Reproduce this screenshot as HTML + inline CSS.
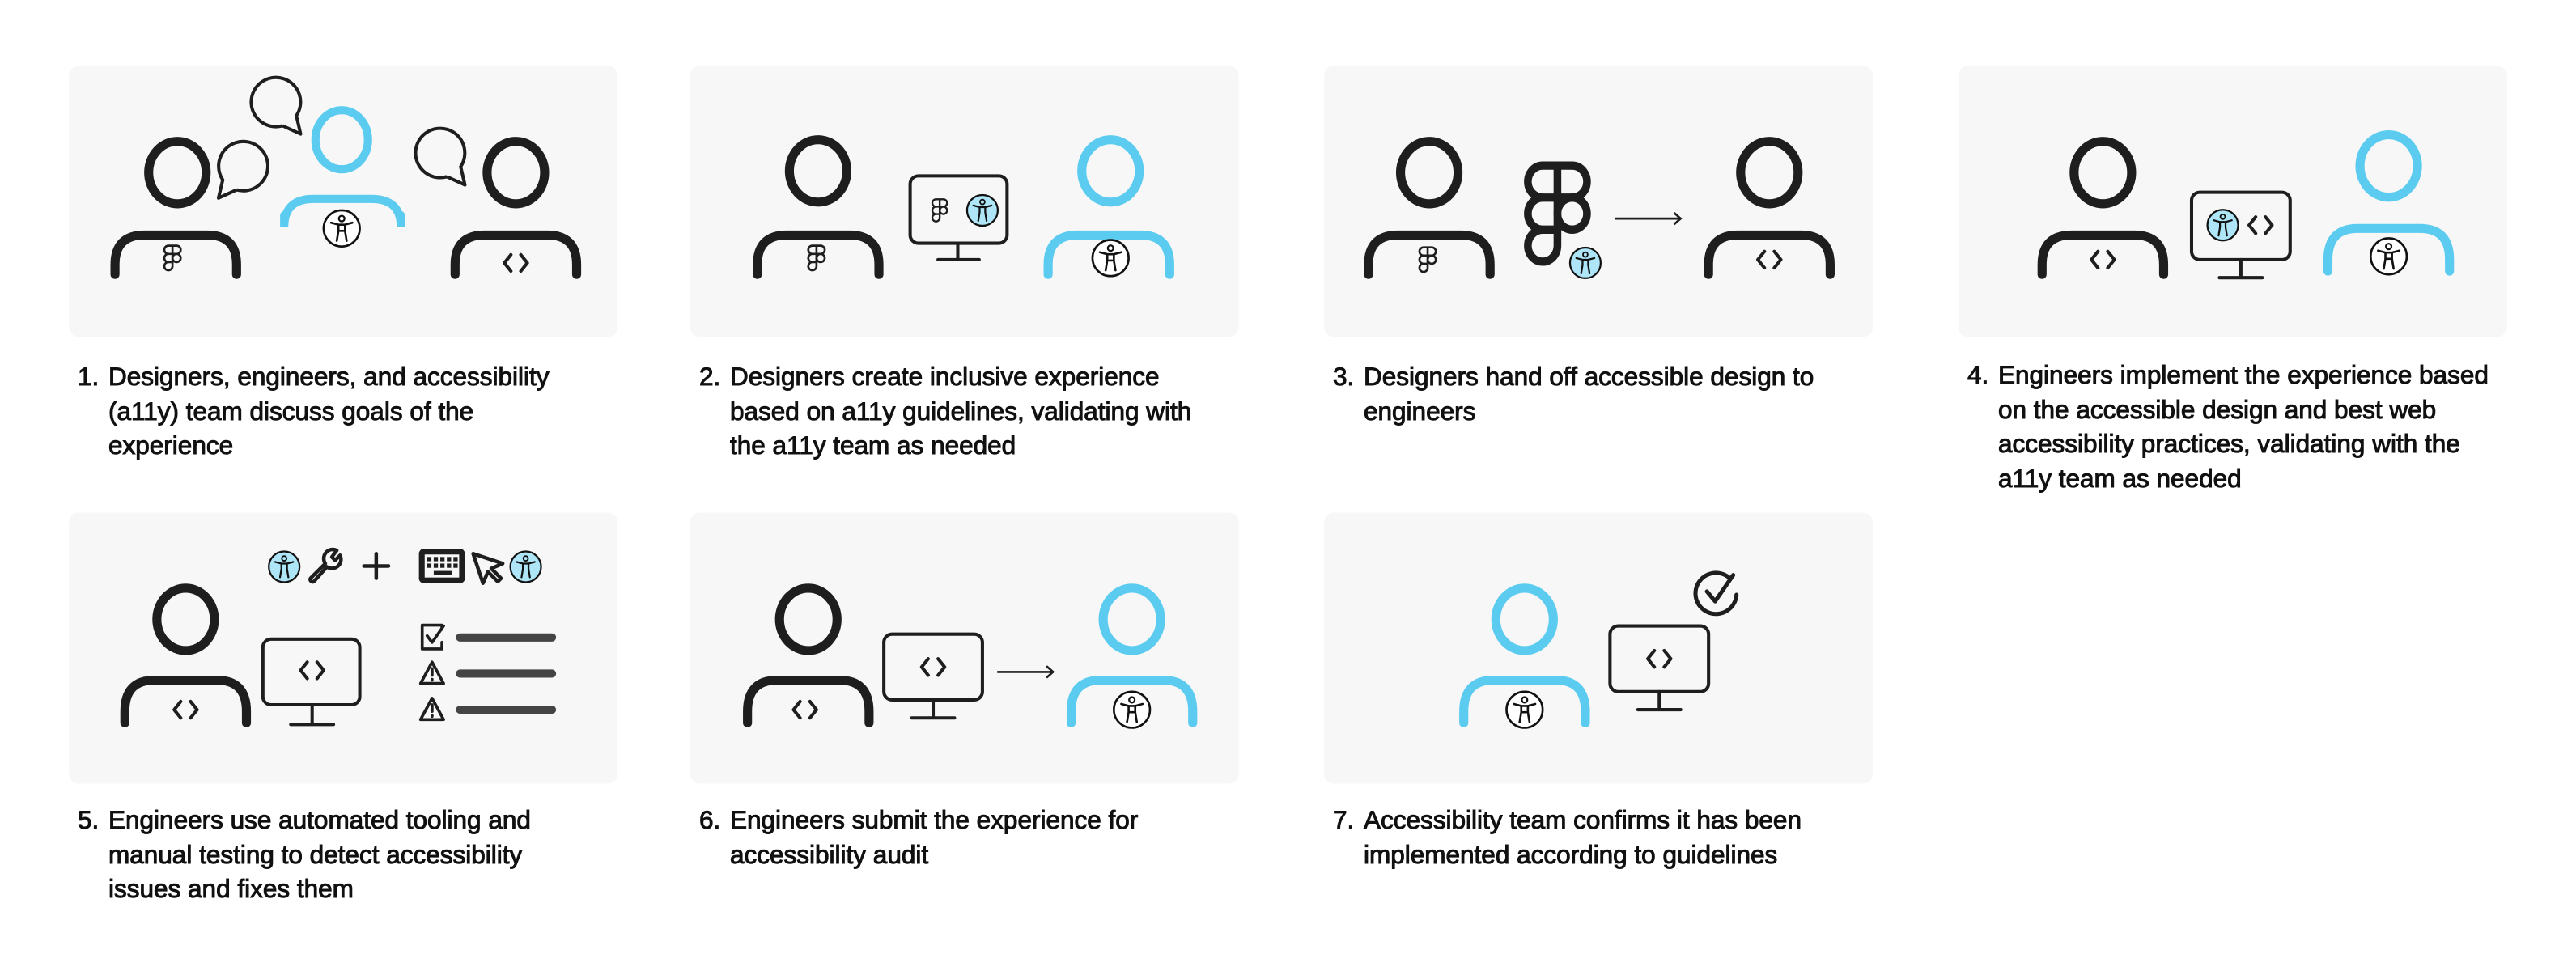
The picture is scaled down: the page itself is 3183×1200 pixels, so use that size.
<!DOCTYPE html>
<html><head><meta charset="utf-8"><style>
html,body{margin:0;padding:0;background:#fff;}
body{width:3183px;height:1200px;position:relative;overflow:hidden;font-family:"Liberation Sans",Arial,sans-serif;}
svg{position:absolute;left:0;top:0;}
.t{position:absolute;font-size:31.5px;line-height:42.6px;color:#111;-webkit-text-stroke:1px #111;white-space:nowrap;}
.t .n{position:absolute;left:-38px;top:0;}
</style></head><body>
<svg width="3183" height="1200" viewBox="0 0 1568 591" xmlns="http://www.w3.org/2000/svg">
<defs>
<g id="acc"><circle r="11" fill="#fff" stroke="#111" stroke-width="1.3"/><circle cy="-6" r="1.7" fill="none" stroke="#111" stroke-width="1.1"/><path d="M-6.5,-3.5 L-2,-2.3 L2,-2.3 L6.5,-3.5 M-2,-2.3 L-2,1.5 L-3,7.5 M2,-2.3 L2,1.5 L3,7.5 M-1,1.5 L1,1.5" fill="none" stroke="#111" stroke-width="1.3" stroke-linecap="round" stroke-linejoin="round"/></g>
<g id="accb"><circle r="11" fill="#aee6f8" stroke="#111" stroke-width="1.3"/><circle cy="-6" r="1.7" fill="none" stroke="#111" stroke-width="1.1"/><path d="M-6.5,-3.5 L-2,-2.3 L2,-2.3 L6.5,-3.5 M-2,-2.3 L-2,1.5 L-3,7.5 M2,-2.3 L2,1.5 L3,7.5" fill="none" stroke="#111" stroke-width="1.3" stroke-linecap="round" stroke-linejoin="round"/></g>
<g id="fig" fill="none" stroke="#1e1e1e" stroke-width="1.3"><path d="M0,-7.5 H-2.5 A2.5,2.5 0 0 0 -2.5,-2.5 H0 Z M0,-7.5 H2.5 A2.5,2.5 0 0 1 2.5,-2.5 H0 Z M0,-2.5 H-2.5 A2.5,2.5 0 0 0 -2.5,2.5 H0 Z M0,2.5 H-2.5 A2.5,2.5 0 0 0 -2.5,7.5 A2.5 2.5 0 0 0 0,5 Z"/><circle cx="2.5" cy="0" r="2.5"/></g>
<g id="code" fill="none" stroke="#1e1e1e" stroke-width="2" stroke-linecap="round" stroke-linejoin="round"><path d="M-3,-5 L-7,0 L-3,5 M3,-5 L7,0 L3,5"/></g>
</defs>
<g fill="#f7f7f7">
<rect x="42" y="40" width="334" height="165" rx="6"/><rect x="420" y="40" width="334" height="165" rx="6"/>
<rect x="806" y="40" width="334" height="165" rx="6"/><rect x="1192" y="40" width="334" height="165" rx="6"/>
<rect x="42" y="312" width="334" height="165" rx="6"/><rect x="420" y="312" width="334" height="165" rx="6"/>
<rect x="806" y="312" width="334" height="165" rx="6"/>
</g>
<g fill="none" stroke-width="5.5" stroke-linecap="round">
<g stroke="#1e1e1e"><ellipse cx="108" cy="105" rx="17.5" ry="19"/><path d="M70,167 V161 Q70,143 88,143 H126 Q144,143 144,161 V167"/>
<ellipse cx="314" cy="105" rx="17.5" ry="19"/><path d="M277,167 V161 Q277,143 295,143 H333 Q351,143 351,161 V167"/></g>
<g stroke="#5bcbf0" stroke-width="5"><ellipse cx="208" cy="85" rx="16" ry="18"/></g>
<g stroke="#1e1e1e"><ellipse cx="498" cy="104" rx="17.5" ry="19"/><path d="M461,167 V161 Q461,143 479,143 H517 Q535,143 535,161 V167"/></g>
<g stroke="#5bcbf0"><ellipse cx="676" cy="104" rx="17.5" ry="19"/><path d="M638,167 V161 Q638,143 656,143 H694 Q712,143 712,161 V167"/></g>
<g stroke="#1e1e1e"><ellipse cx="870" cy="105" rx="17.5" ry="19"/><path d="M833,167 V161 Q833,143 851,143 H889 Q907,143 907,161 V167"/>
<ellipse cx="1077" cy="105" rx="17.5" ry="19"/><path d="M1040,167 V161 Q1040,143 1058,143 H1096 Q1114,143 1114,161 V167"/></g>
<g stroke="#1e1e1e"><ellipse cx="1280" cy="105" rx="17.5" ry="19"/><path d="M1243,167 V161 Q1243,143 1261,143 H1299 Q1317,143 1317,161 V167"/></g>
<g stroke="#5bcbf0"><ellipse cx="1454" cy="101" rx="17.5" ry="19"/><path d="M1417,165 V158 Q1417,139 1435,139 H1473 Q1491,139 1491,158 V165"/></g>
<g stroke="#1e1e1e"><ellipse cx="113" cy="377" rx="17.5" ry="19"/><path d="M76,440 V433 Q76,414 94,414 H132 Q150,414 150,433 V440"/></g>
<g stroke="#1e1e1e"><ellipse cx="492" cy="377" rx="17.5" ry="19"/><path d="M455,440 V433 Q455,414 473,414 H511 Q529,414 529,433 V440"/></g>
<g stroke="#5bcbf0"><ellipse cx="689" cy="377" rx="17.5" ry="19"/><path d="M652,440 V433 Q652,414 670,414 H708 Q726,414 726,433 V440"/></g>
<g stroke="#5bcbf0"><ellipse cx="928" cy="377" rx="17.5" ry="19"/><path d="M891,440 V433 Q891,414 909,414 H947 Q965,414 965,433 V440"/></g>
</g>
<path d="M173,131 V138 Q173,121 191,121 H226 Q244,121 244,138 V131" fill="none" stroke="#5bcbf0" stroke-width="5" stroke-linecap="round"/>
<g fill="none" stroke="#1e1e1e" stroke-width="2" stroke-linejoin="round">
<path transform="translate(168,62)" d="M4,14.5 L15,19.5 L12.4,8.4 A15 15 0 1 0 4,14.5"/>
<path transform="translate(148,101)" d="M-4,14.5 L-15,19.5 L-12.4,8.4 A15 15 0 1 1 -4,14.5"/>
<path transform="translate(268,93)" d="M4,14.5 L15,19.5 L12.4,8.4 A15 15 0 1 0 4,14.5"/>
</g>
<use href="#fig" transform="translate(105,157)"/>
<use href="#acc" transform="translate(208,139)"/>
<use href="#code" transform="translate(314,160)"/>
<use href="#fig" transform="translate(497,157)"/>
<use href="#acc" transform="translate(676,157)"/>
<use href="#fig" transform="translate(869,158)"/>
<use href="#code" transform="translate(1077,158)"/>
<use href="#code" transform="translate(1280,158)"/>
<use href="#acc" transform="translate(1454,156)"/>
<use href="#code" transform="translate(113,432)"/>
<use href="#code" transform="translate(490,432)"/>
<use href="#acc" transform="translate(689,432)"/>
<use href="#acc" transform="translate(928,432)"/>
<g fill="none" stroke="#1e1e1e" stroke-width="2" stroke-linecap="round">
<rect x="554" y="107" width="59" height="41" rx="5"/><path d="M583,148 V158 M571,158 H596" />
<rect x="1334" y="117" width="60" height="41" rx="5"/><path d="M1364,158 V169 M1351,169 H1377"/>
<rect x="160" y="389" width="59" height="40" rx="5"/><path d="M190,429 V441 M177,441 H203"/>
<rect x="538" y="386" width="60" height="40" rx="5"/><path d="M568,426 V437 M555,437 H581"/>
<rect x="980" y="381" width="60" height="40" rx="5"/><path d="M1010,421 V432 M997,432 H1023"/>
</g>
<use href="#fig" transform="translate(572,128) scale(0.9)"/>
<use href="#accb" transform="translate(598,128) scale(0.85)"/>
<use href="#accb" transform="translate(1353,137) scale(0.85)"/>
<use href="#code" transform="translate(1376,137)"/>
<use href="#code" transform="translate(190,408)"/>
<use href="#code" transform="translate(568,406)"/>
<use href="#code" transform="translate(1010,401)"/>
<use href="#fig" transform="translate(948,130) scale(3.6,3.9)" style="stroke-width:0.7"/>
<use href="#accb" transform="translate(965,160) scale(0.85)"/>
<g fill="none" stroke="#1e1e1e" stroke-width="1.3"><path d="M983,133 H1023 M1019,129.5 L1023,133 L1019,136.5"/><path d="M607,409 H641 M637,405.5 L641,409 L637,412.5"/></g>
<g fill="none" stroke="#1e1e1e" stroke-width="2.5" stroke-linecap="round" stroke-linejoin="round">
<path d="M1053,352 A12.5 12.5 0 1 0 1057,362"/><path d="M1039,360 L1044,366 L1055,350"/>
</g>
<use href="#accb" transform="translate(173,345) scale(0.85)"/>
<use href="#accb" transform="translate(320,345) scale(0.85)"/>
<g fill="none" stroke="#1e1e1e" stroke-width="2.2" stroke-linecap="round" stroke-linejoin="round">
<path d="M189,352 L198,343 A5.5,5.5 0 0 1 205,335 L202,339 L204,341 L207,338 A5.5 5.5 0 0 1 199,345 L191,354 A1.5 1.5 0 0 1 189,352 Z"/>
<path d="M229,337 V352 M221.5,344.5 H236.5"/>
<path d="M288,337 L294,355 L297,348 L303,354 L305,352 L299,346 L306,343 Z"/>
</g>
<rect x="255" y="334" width="28" height="21" rx="3" fill="#1e1e1e"/>
<rect x="258.5" y="337.5" width="21" height="14" fill="#f7f7f7"/>
<g fill="#1e1e1e"><rect x="260" y="339" width="2.6" height="2.6"/><rect x="264" y="339" width="2.6" height="2.6"/><rect x="268" y="339" width="2.6" height="2.6"/><rect x="272" y="339" width="2.6" height="2.6"/><rect x="276" y="339" width="2.6" height="2.6"/>
<rect x="260" y="343" width="2.6" height="2.6"/><rect x="264" y="343" width="2.6" height="2.6"/><rect x="268" y="343" width="2.6" height="2.6"/><rect x="272" y="343" width="2.6" height="2.6"/><rect x="276" y="343" width="2.6" height="2.6"/>
<rect x="264" y="347.5" width="11" height="2.5"/></g>
<g fill="none" stroke="#1e1e1e" stroke-width="1.8" stroke-linecap="round" stroke-linejoin="round">
<path d="M269,383 V380.5 H257 V395 H269 V391"/><path d="M260,387 L263,391 L270,381"/>
<path d="M263,403 L270,416 H256 Z M263,407 V411 M263,413.5 V414"/>
<path d="M263,425 L270,438 H256 Z M263,429 V433 M263,435.5 V436"/>
</g>
<g stroke="#444" stroke-width="5" stroke-linecap="round"><path d="M280,388 H336 M280,410 H336 M280,432 H336"/></g>
</svg>

<div class="t" style="left:134px;top:444px"><span class="n">1.</span>Designers, engineers, and accessibility<br>(a11y) team discuss goals of the<br>experience</div>
<div class="t" style="left:902px;top:444px"><span class="n">2.</span>Designers create inclusive experience<br>based on a11y guidelines, validating with<br>the a11y team as needed</div>
<div class="t" style="left:1685px;top:444px"><span class="n">3.</span>Designers hand off accessible design to<br>engineers</div>
<div class="t" style="left:2469px;top:442px"><span class="n">4.</span>Engineers implement the experience based<br>on the accessible design and best web<br>accessibility practices, validating with the<br>a11y team as needed</div>
<div class="t" style="left:134px;top:992px"><span class="n">5.</span>Engineers use automated tooling and<br>manual testing to detect accessibility<br>issues and fixes them</div>
<div class="t" style="left:902px;top:992px"><span class="n">6.</span>Engineers submit the experience for<br>accessibility audit</div>
<div class="t" style="left:1685px;top:992px"><span class="n">7.</span>Accessibility team confirms it has been<br>implemented according to guidelines</div>
</body></html>
